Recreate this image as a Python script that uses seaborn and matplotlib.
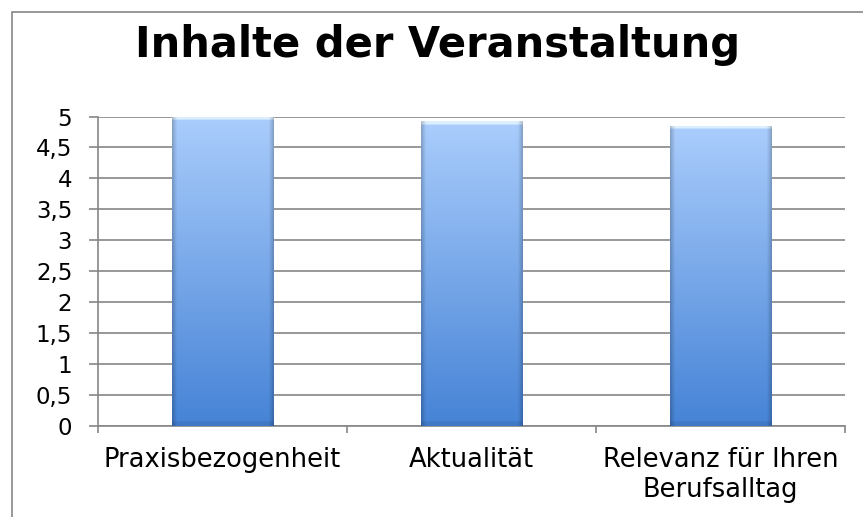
import matplotlib
matplotlib.use('Agg')
import matplotlib.pyplot as plt
import matplotlib.patches as mpatches
import numpy as np
import pandas as pd
import seaborn as sns
from matplotlib.colors import to_rgb
from matplotlib.ticker import FuncFormatter, MultipleLocator

# Data
categories = ['Praxisbezogenheit', 'Aktualität', 'Relevanz für Ihren\nBerufsalltag']
scores = [5.0, 4.92, 4.85]
title = 'Inhalte der Veranstaltung'

df = pd.DataFrame({'kategorie': categories, 'wert': scores})

sns.set_style('white')
plt.rcParams['font.family'] = ['DejaVu Sans']
plt.rcParams['text.color'] = 'black'

fig = plt.figure(figsize=(8.63, 5.17), dpi=100)
ax = fig.add_axes([98 / 863, 1 - 426 / 517, (845 - 98) / 863, (426 - 116.5) / 517])

sns.barplot(x='kategorie', y='wert', data=df, ax=ax, width=0.406,
            color='#7aa9ea', saturation=1, errorbar=None, zorder=3)

# Excel-like gradient inside each bar, with a light bevel on top
top = np.array(to_rgb('#aacdfc'))
bottom = np.array(to_rgb('#4683d6'))
t = np.linspace(0, 1, 256)[:, None]
grad = top + (bottom - top) * t
grad[:3] = np.array(to_rgb('#dcefff'))
grad[-4:] = grad[-4:] * 0.92
grad = np.repeat(grad[:, None, :], 64, axis=1)
edge = np.ones(64)
edge[:3] = [0.80, 0.88, 0.95]
edge[-3:] = [0.95, 0.88, 0.80]
grad = np.clip(grad * edge[None, :, None], 0, 1)
for p in ax.patches:
    x0, y0 = p.get_x(), p.get_y()
    w, h = p.get_width(), p.get_height()
    im = ax.imshow(grad, extent=[x0, x0 + w, y0, y0 + h], aspect='auto',
                   origin='upper', zorder=4, interpolation='bilinear')
    im.set_clip_path(p)
    p.set_edgecolor('#5b87c2')
    p.set_linewidth(0.6)

ax.set_xlim(-0.5, 2.5)
ax.set_ylim(0, 5)
ax.yaxis.set_major_locator(MultipleLocator(0.5))
ax.yaxis.set_major_formatter(FuncFormatter(lambda v, _: ('%g' % v).replace('.', ',')))
ax.grid(axis='y', color='#868686', linewidth=1.2, zorder=0)
ax.set_axisbelow(True)

ax.set_xlabel('')
ax.set_ylabel('')
for s in ['top', 'right']:
    ax.spines[s].set_visible(False)
for s in ['left', 'bottom']:
    ax.spines[s].set_color('#868686')
    ax.spines[s].set_linewidth(1.2)

ax.tick_params(axis='y', which='both', left=True, length=6.5, width=1.2,
               color='#868686', pad=12, labelsize=16.5, labelcolor='black')
# category ticks sit between the bars, labels stay centred
ax.set_xticks([0, 1, 2])
ax.set_xticklabels(categories, fontsize=18.5, linespacing=1.2, color='black')
ax.set_xticks([-0.5, 0.5, 1.5, 2.5], minor=True)
ax.tick_params(axis='x', which='major', length=0, pad=15)
ax.tick_params(axis='x', which='minor', bottom=True, length=5, width=1.2, color='#868686')

fig.text(437.5 / 863, 1 - 45 / 517, title, ha='center', va='center',
         fontsize=30, fontweight='bold', color='black')

# chart area border (left and top visible in the crop)
fig.patches.append(mpatches.Rectangle((12 / 863, -0.1), 1.2, 1 - 12 / 517 + 0.1,
                                      transform=fig.transFigure, fill=False,
                                      edgecolor='#868686', linewidth=1.2))

fig.savefig('out.png', dpi=100)
